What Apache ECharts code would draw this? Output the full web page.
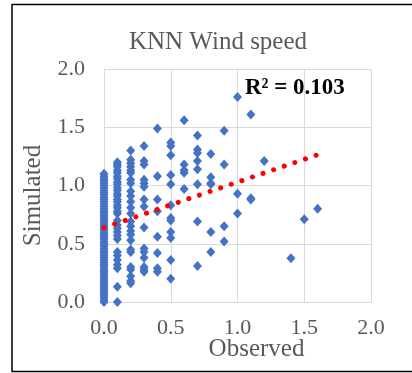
<!DOCTYPE html>
<html>
<head>
<meta charset="utf-8">
<script src="https://cdn.jsdelivr.net/npm/echarts@6/dist/echarts.min.js"></script>
<style>
html,body{margin:0;padding:0;background:#fff;}
#chart{width:412px;height:373px;}
</style>
</head>
<body>
<div id="chart"></div>
<script>
// Observed x values (discrete columns) and their simulated values
var col00 = [0.00,0.02,0.04,0.06,0.08,0.10,0.12,0.14,0.16,0.18,0.20,0.22,0.24,0.26,0.28,0.30,0.32,0.34,0.36,0.38,0.40,0.42,0.44,0.46,0.48,0.50,0.52,0.54,0.56,0.58,0.60,0.62,0.64,0.66,0.68,0.70,0.72,0.74,0.76,0.78,0.80,0.82,0.84,0.86,0.88,0.90,0.92,0.94,0.96,0.98,1.00,1.02,1.04,1.06,1.08,1.10];
var col01 = [0.00,0.13,0.29,0.32,0.36,0.40,0.43,0.54,0.57,0.60,0.63,0.66,0.70,0.76,0.78,0.81,0.83,0.86,0.88,0.91,0.93,0.96,0.98,1.01,1.03,1.06,1.08,1.11,1.13,1.16,1.18,1.20];
var col02 = [0.16,0.18,0.22,0.28,0.30,0.43,0.45,0.53,0.58,0.61,0.65,0.69,0.76,0.81,0.86,0.91,0.95,1.02,1.05,1.11,1.13,1.16,1.19,1.22,1.30];
var col03 = [0.26,0.28,0.30,0.38,0.43,0.46,0.64,0.82,0.88,0.99,1.02,1.05,1.18,1.21,1.34];
var col04 = [0.26,0.29,0.42,0.56,0.78,0.88,1.08,1.49];
var col05 = [0.20,0.36,0.55,0.60,0.70,0.72,0.83,1.01,1.09,1.26,1.34,1.37];
var col06 = [0.97,1.11,1.13,1.18,1.56];
var col07 = [0.31,0.69,1.01,1.14,1.21,1.28,1.31,1.43];
var col08 = [0.43,0.60,1.01,1.02,1.07,1.27];
var col09 = [0.52,0.65,1.18,1.47];
var col10 = [0.76,0.93,1.76];
var col11 = [0.88,0.89,1.61];
var col12 = [1.21];
var col14 = [0.375];
var col15 = [0.71];
var col16 = [0.80];
var columnX = [0, 0.1, 0.2, 0.3, 0.4, 0.5, 0.6, 0.7, 0.8, 0.9, 1.0, 1.1, 1.2, 1.4, 1.5, 1.6];
var columnY = [col00, col01, col02, col03, col04, col05, col06, col07, col08, col09, col10, col11, col12, col14, col15, col16];

// Linear trendline endpoints
var trendX = [0, 1.6];
var trendY = [0.638, 1.264];

var axisTicks = [0, 0.5, 1.0, 1.5, 2.0];
var titleText = 'KNN Wind speed';
var xName = 'Observed';
var yName = 'Simulated';
var r2Text = 'R² = 0.103';

var scatterData = [];
columnX.forEach(function (x, i) {
  columnY[i].forEach(function (y) { scatterData.push([x, y]); });
});
var trendData = trendX.map(function (x, i) { return [x, trendY[i]]; });

var serif = "'Liberation Serif', 'Times New Roman', serif";
var gray = '#595959';

var chart = echarts.init(document.getElementById('chart'), null, {renderer: 'canvas'});
chart.setOption({
  animation: false,
  backgroundColor: '#fff',
  title: {
    text: titleText,
    left: 213,
    top: 25,
    textAlign: 'center',
    textStyle: {fontFamily: serif, fontSize: 25, fontWeight: 'normal', color: gray}
  },
  grid: {left: 104, right: 41, top: 69, bottom: 71, containLabel: false},
  xAxis: {
    type: 'value', min: axisTicks[0], max: axisTicks[axisTicks.length - 1], interval: 0.5,
    name: xName, nameLocation: 'middle', nameGap: 35, nameMoveOverlap: false,
    nameTextStyle: {fontFamily: serif, fontSize: 25, color: gray, padding: [0, 0, 0, 38]},
    axisLine: {show: true, lineStyle: {color: '#d9d9d9', width: 1}},
    axisTick: {show: false},
    axisLabel: {fontFamily: serif, fontSize: 22, color: gray, margin: 15,
      formatter: function (v) { return v.toFixed(1); }},
    splitLine: {show: true, lineStyle: {color: '#d9d9d9', width: 1}}
  },
  yAxis: {
    type: 'value', min: axisTicks[0], max: axisTicks[axisTicks.length - 1], interval: 0.5,
    name: yName, nameLocation: 'middle', nameGap: 58, nameRotate: 90, nameMoveOverlap: false,
    nameTextStyle: {fontFamily: serif, fontSize: 25, color: gray, padding: [0, 20, 0, 0]},
    axisLine: {show: true, lineStyle: {color: '#d9d9d9', width: 1}},
    axisTick: {show: false},
    axisLabel: {fontFamily: serif, fontSize: 22, color: gray, margin: 19,
      formatter: function (v) { return v.toFixed(1); }},
    splitLine: {show: true, lineStyle: {color: '#d9d9d9', width: 1}}
  },
  series: [
    {
      type: 'scatter',
      data: scatterData,
      symbol: 'diamond',
      symbolSize: [9, 10],
      itemStyle: {color: '#4472C4', opacity: 1},
      z: 2
    },
    {
      type: 'line',
      data: trendData,
      showSymbol: false,
      symbol: 'none',
      lineStyle: {color: '#FF0000', width: 5, type: [0.1, 11.1], cap: 'round'},
      z: 3
    }
  ],
  graphic: [
    {
      type: 'rect', silent: true, z: -1,
      shape: {x: 12, y: 4.5, width: 420, height: 367},
      style: {fill: 'none', stroke: '#000', lineWidth: 1.5}
    },
    {
      type: 'text', z: 10,
      left: 245, top: 77,
      style: {text: r2Text, font: 'bold 23px ' + serif, fill: '#000'}
    }
  ]
});
</script>
</body>
</html>
